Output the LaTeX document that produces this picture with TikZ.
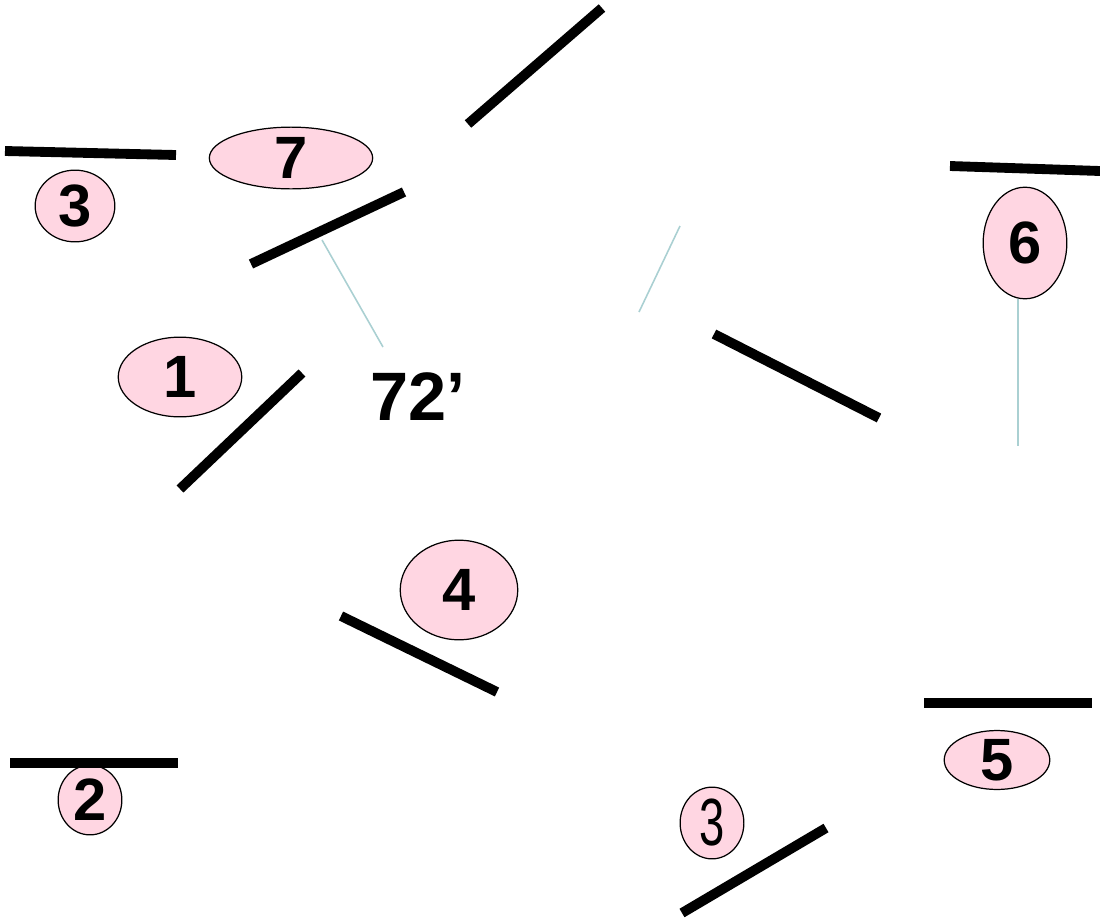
\documentclass[tikz,border=0pt]{standalone}
\usepackage{fontspec}
\usepackage{graphicx}
\setmainfont{Liberation Sans}
\usetikzlibrary{shapes.geometric}

\definecolor{seatpink}{RGB}{255,214,226}
\definecolor{leadteal}{RGB}{170,208,210}

\begin{document}
\begin{tikzpicture}[
  x=0.02cm, y=-0.02cm,
  wall/.style={line width=5.6pt, draw=black},
  seat/.style={
    ellipse, draw=black, line width=0.7pt, fill=seatpink, inner sep=0pt,
    font=\fontsize{34}{34}\selectfont\bfseries
  },
  lead/.style={draw=leadteal, line width=0.9pt},
  dim/.style={font=\fontsize{39}{39}\selectfont\bfseries},
]
  \def\px{0.5669pt}
  \useasboundingbox (0,0) rectangle (1100,920);

  % --- Seats ---
  \node[seat, minimum width=164*\px, minimum height=62*\px] (s7)  at (291,158) {7};
  \node[seat, minimum width=80*\px,  minimum height=72*\px] (s3a) at (75,206)  {3};
  \node[seat, minimum width=124*\px, minimum height=80*\px] (s1)  at (180,377) {1};
  \node[seat, minimum width=84*\px,  minimum height=112*\px] (s6) at (1025,243) {6};
  \node[seat, minimum width=118*\px, minimum height=100*\px] (s4) at (459,590) {4};
  \node[seat, minimum width=106*\px, minimum height=54*\px] (s5)  at (997,760) {5};
  \node[seat, minimum width=64*\px,  minimum height=70*\px] (s2)  at (90,800)  {2};
  \node[seat, minimum width=64*\px,  minimum height=72*\px, font=\fontsize{38}{38}\selectfont] (s3b) at (712,823)
    {\scalebox{0.68}[1]{3}};

  % --- Walls ---
  \draw[wall] (5,151) -- (176,155);
  \draw[wall] (468,124) -- (602,8);
  \draw[wall] (251,264) -- (404,192);
  \draw[wall] (180,489) -- (302,373);
  \draw[wall] (714,334) -- (879,418);
  \draw[wall] (950,166) -- (1100,171);
  \draw[wall] (341,616) -- (497,692);
  \draw[wall] (10,763) -- (178,763);
  \draw[wall] (924,703) -- (1092,703);
  \draw[wall] (682,913) -- (826,828);

  % --- Dimension and leaders ---
  \node[dim] (span) at (418,397) {72’};
  \coordinate (leadA) at (322,240);
  \coordinate (leadAend) at (383,347);
  \draw[lead] (leadA) -- (leadAend);
  \coordinate (leadB) at (680,226);
  \coordinate (leadBend) at (639,312);
  \draw[lead] (leadB) -- (leadBend);
  \coordinate (leadCend) at (1018,446);
  \draw[lead] (s6.south -| leadCend) -- (leadCend);

\end{tikzpicture}
\end{document}
